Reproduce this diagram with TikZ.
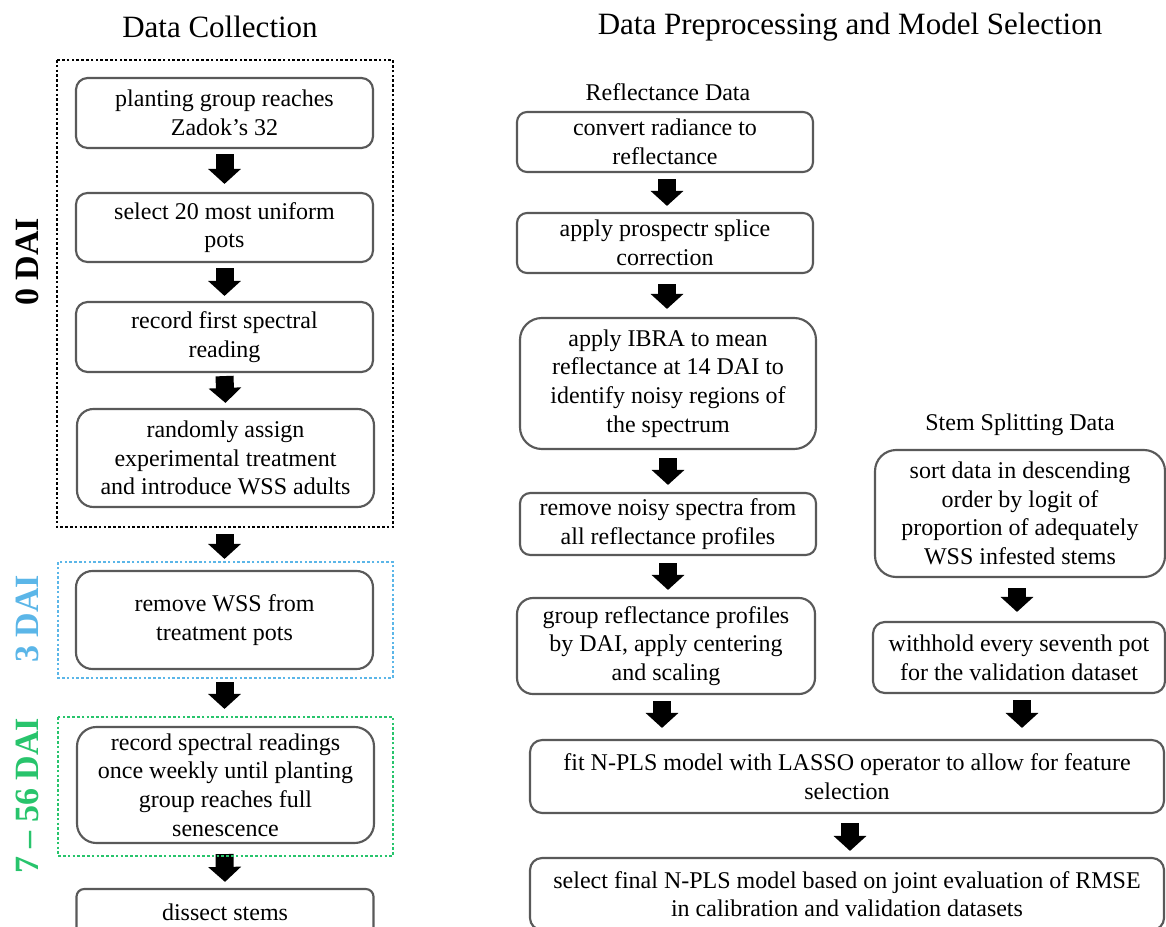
\documentclass[tikz,border=0pt]{standalone}
\usepackage{fontspec}
\setmainfont{Liberation Serif}
\usetikzlibrary{arrows.meta,calc}
\definecolor{boxgray}{RGB}{89,89,89}
\definecolor{daiblue}{RGB}{91,182,232}
\definecolor{daigreen}{RGB}{40,196,108}
\begin{document}
\begin{tikzpicture}[x=0.75pt,y=-0.75pt,
  proc/.style 2 args={draw=boxgray, line width=1.6pt, fill=white, align=center, inner sep=0pt,
    font=\fontsize{18}{21.5}\selectfont, minimum width=#1*0.75pt, minimum height=#2*0.75pt,
    rounded corners=#2*0.125pt},
  blockarrow/.style={draw=black, line width=13.5pt, -{Triangle[width=24pt,length=11.25pt]}},
  dotframe/.style={line width=2pt, dash pattern=on 2pt off 1.6pt},
  title/.style={font=\fontsize{23.25}{28}\selectfont},
  subtitle/.style={font=\fontsize{18}{22}\selectfont},
  dai/.style={rotate=90, font=\fontsize{25.5}{30}\selectfont\bfseries}]
\useasboundingbox (0,0) rectangle (1166,927);
\clip (0,0) rectangle (1166,927);

% titles
\node[title] (t1) at (220,27) {Data Collection};
\node[title] (t2) at (850,27) {Data Preprocessing and Model Selection};
\node[subtitle] (st1) at (668,92) {Reflectance Data};
\node[subtitle] (st2) at (1020,425) {Stem Splitting Data};

% left column
\node[proc={297}{70}] (b1) at (224.5,113) {planting group reaches\\Zadok’s 32};
\node[proc={297}{69}] (b2) at (224.5,227.5) {select 20 most uniform\\pots};
\node[proc={297}{70}] (b3) at (224.5,337) {record first spectral\\reading};
\node[proc={297}{98}] (b4) at (225.5,458) {randomly assign\\experimental treatment\\and introduce WSS adults};
\node[proc={297}{98}] (b5) at (224.5,620) {remove WSS from\\treatment pots};
\node[proc={297}{116}] (b6) at (225.5,785) {record spectral readings\\once weekly until planting\\group reaches full\\senescence};
\node[proc={297}{46}] (b7) at (225,912) {dissect stems};

% right column
\node[proc={296}{60}] (r1) at (665,142) {convert radiance to\\reflectance};
\node[proc={296}{60}] (r2) at (665,243) {apply prospectr splice\\correction};
\node[proc={296}{131}] (r3) at (668,383.5) {apply IBRA to mean\\reflectance at 14 DAI to\\identify noisy regions of\\the spectrum};
\node[proc={296}{62}] (r4) at (668,524) {remove noisy spectra from\\all reflectance profiles};
\node[proc={298}{96}] (r5) at (666,646) {group reflectance profiles\\by DAI, apply centering\\and scaling};
\node[proc={290}{127}] (s1) at (1020,513.5) {sort data in descending\\order by logit of\\proportion of adequately\\WSS infested stems};
\node[proc={292}{71}] (s2) at (1019,657.5) {withhold every seventh pot\\for the validation dataset};
\node[proc={634}{73}] (f1) at (847,776.5) {fit N-PLS model with LASSO operator to allow for feature\\selection};
\node[proc={634}{72}] (f2) at (847,894) {select final N-PLS model based on joint evaluation of RMSE\\in calibration and validation datasets};

% arrows
\draw[blockarrow] ($(b1.south)+(0,5)$) -- ($(b2.north)+(0,-8)$);
\draw[blockarrow] ($(b2.south)+(0,5)$) -- ($(b3.north)+(0,-5)$);
\draw[blockarrow] ($(b3.south)+(0,3)$) -- ($(b4.north)+(0,-5)$);
\draw[blockarrow] ($(b4.south)+(-1,26)$) -- ($(b5.north)+(0,-11)$);
\draw[blockarrow] ($(b5.south)+(0,12)$) -- ($(b6.north)+(-1,-17)$);
\draw[blockarrow] ($(b6.south)+(-1,10)$) -- ($(b7.north)+(0,-6)$);
\draw[blockarrow] ($(r1.south)+(2,6)$) -- ($(r2.north)+(2,-6)$);
\draw[blockarrow] ($(r2.south)+(2,10)$) -- ($(r3.north)+(-1,-8)$);
\draw[blockarrow] ($(r3.south)+(0,8)$) -- ($(r4.north)+(0,-7)$);
\draw[blockarrow] ($(r4.south)+(0,7)$) -- ($(r5.north)+(2,-7)$);
\draw[blockarrow] ($(s1.south)+(-3,10)$) -- ($(s2.north)+(-2,-9)$);
\draw[blockarrow] ($(r5.south)+(-4,6)$) -- ($(r5.south |- f1.north)+(-4,-11)$);
\draw[blockarrow] ($(s2.south)+(3,6)$) -- ($(s2.south |- f1.north)+(3,-11)$);
\draw[blockarrow] ($(f1.south)+(3,9)$) -- ($(f2.north)+(3,-6)$);

% phase frames
\draw[dotframe, draw=black] (57,60) rectangle (393,527);
\draw[dotframe, draw=daiblue] (58,562) rectangle (393,678);
\draw[dotframe, draw=daigreen] (58,717) rectangle (393,856);

% phase labels
\node[dai, text=black] (l0) at (27,262) {0 DAI};
\node[dai, text=daiblue] (l3) at (27,619) {3 DAI};
\node[dai, text=daigreen] (l7) at (27,796) {7 – 56 DAI};
\end{tikzpicture}
\end{document}
